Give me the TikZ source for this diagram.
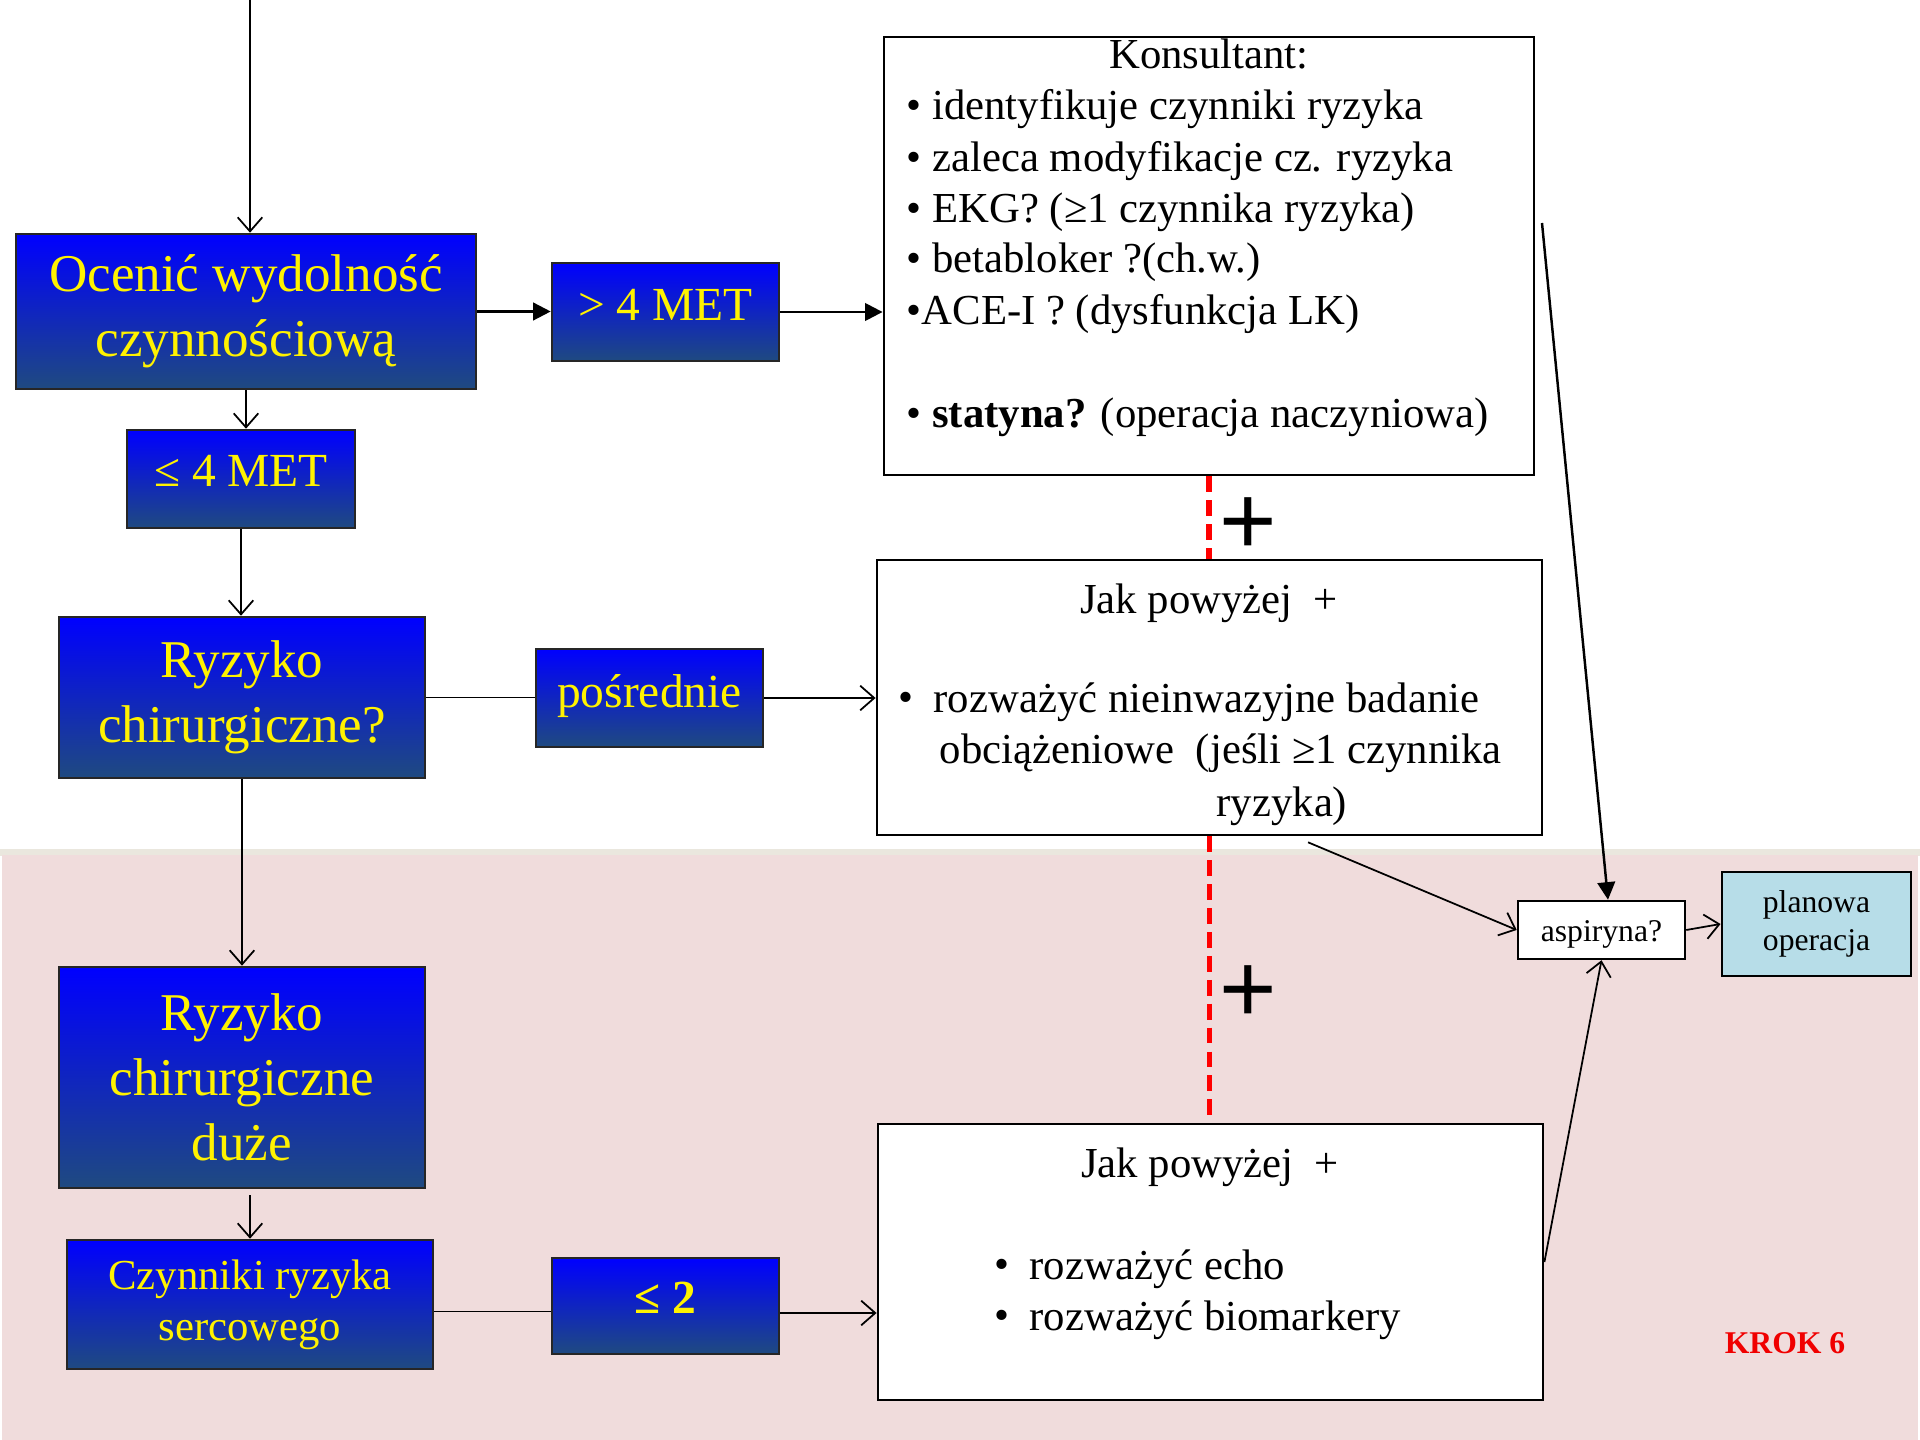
\documentclass[tikz,border=0pt]{standalone}
\usepackage{fontspec}
\setmainfont{Liberation Serif}
\newfontfamily\plusfont{Liberation Sans}
\usetikzlibrary{arrows.meta}
\definecolor{boxtop}{RGB}{0,0,255}
\definecolor{boxbot}{RGB}{31,74,128}
\definecolor{pinkbg}{RGB}{240,220,220}
\definecolor{beigeline}{RGB}{234,231,222}
\definecolor{planblue}{RGB}{183,221,232}
\definecolor{krokred}{RGB}{240,0,0}
\newcommand\fsA{\fontsize{15.1}{18.4}\selectfont}
\newcommand\fsB{\fontsize{13.5}{16}\selectfont}
\newcommand\fsC{\fontsize{12.15}{14.6}\selectfont}
\newcommand\fsD{\fontsize{9}{10.8}\selectfont}
\newcommand\fsP{\plusfont\fontsize{28}{30}\selectfont}
\tikzset{
 bluebox/.style={draw=black!85, line width=0.7pt, top color=boxtop, bottom color=boxbot, text=yellow, align=center, inner sep=0pt},
 whitebox/.style={draw=black, line width=0.7pt, fill=white, inner sep=0pt},
 txt/.style={inner sep=0pt, anchor=west},
 conn/.style={line width=0.5pt, -{Straight Barb[length=4pt,width=7pt]}},
 connf/.style={line width=0.7pt, -{Triangle[length=5pt,width=5pt]}},
 plainln/.style={line width=0.5pt},
 reddash/.style={red, line width=1.7pt, dash pattern=on 4.5pt off 2.3pt},
}
\begin{document}
\begin{tikzpicture}[x=0.01cm,y=-0.01cm]
\useasboundingbox (0,0) rectangle (1920,1440);
\fill[white] (0,0) rectangle (1920,1440);
\fill[beigeline] (0,849) rectangle (1920,856);
\fill[pinkbg] (2,855) rectangle (1918,1440);

% blue boxes
\node[bluebox, minimum width=4.6cm, minimum height=1.55cm, font=\fsA] (ocen) at (246,311.5) {Ocenić wydolność\\czynnościową};
\node[bluebox, minimum width=2.27cm, minimum height=0.98cm, font=\fsB] (gt4) at (665.5,312) {> 4 MET\rule[-0.14cm]{0pt}{0pt}};
\node[bluebox, minimum width=2.28cm, minimum height=0.98cm, font=\fsB] (le4) at (241,479) {≤ 4 MET\rule[-0.17cm]{0pt}{0pt}};
\node[bluebox, minimum width=3.66cm, minimum height=1.61cm, font=\fsA] (ryz1) at (242,697.5) {Ryzyko\\chirurgiczne?};
\node[bluebox, minimum width=2.27cm, minimum height=0.98cm, font=\fsB] (posr) at (649.5,698) {pośrednie\rule[-0.13cm]{0pt}{0pt}};
\node[bluebox, minimum width=3.66cm, minimum height=2.21cm, font=\fsA] (ryz2) at (242,1077.5) {Ryzyko\\chirurgiczne\\duże};
\node[bluebox, minimum width=3.66cm, minimum height=1.29cm, font=\fsC] (czyn) at (250,1304.5) {Czynniki ryzyka\\sercowego};
\node[bluebox, minimum width=2.27cm, minimum height=0.96cm, font=\fsB\bfseries] (le2) at (665.5,1306) {≤ 2\rule[-0.17cm]{0pt}{0pt}};

% white boxes
\node[whitebox, minimum width=6.5cm, minimum height=4.38cm] (kons) at (1209,256) {};
\node[whitebox, minimum width=6.65cm, minimum height=2.75cm] (jak1) at (1209.5,697.5) {};
\node[whitebox, minimum width=6.65cm, minimum height=2.76cm] (jak2) at (1210.5,1262) {};
\node[whitebox, minimum width=1.67cm, minimum height=0.58cm, font=\fsD] (asp) at (1601.5,930) {\rule{0pt}{0.3cm}aspiryna?};
\node[draw=black, line width=0.8pt, fill=planblue, inner sep=0pt, minimum width=1.89cm, minimum height=1.04cm, align=center, font=\fsD] (plan) at (1816.5,924) {planowa\\operacja};

% Konsultant text
\node[inner sep=0pt, font=\fsC] (kt) at (1209,54) {Konsultant:};
\node[txt, font=\fsC] (k1) at (906,109) {• identyfikuje czynniki ryzyka};
\node[txt, font=\fsC] (k2) at (906,161) {• zaleca modyfikacje cz. ryzyka};
\node[txt, font=\fsC] (k3) at (906,212) {• EKG? (≥1 czynnika ryzyka)};
\node[txt, font=\fsC] (k4) at (906,262) {• betabloker ?(ch.w.)};
\node[txt, font=\fsC] (k5) at (906,314) {•ACE-I ? (dysfunkcja LK)};
\node[txt, font=\fsC] (k6) at (906,417) {• \textbf{statyna?} (operacja naczyniowa)};

% Jak 1 text
\node[inner sep=0pt, font=\fsC] (j1t) at (1209,603) {Jak powyżej\ \ +};
\node[txt, font=\fsC] (j1b) at (898,702) {•};
\node[txt, font=\fsC] (j1a) at (933,702) {rozważyć nieinwazyjne badanie};
\node[txt, font=\fsC] (j1c) at (939,753) {obciążeniowe\ \ (jeśli ≥1 czynnika};
\node[txt, font=\fsC] (j1d) at (1216,806) {ryzyka)};

% Jak 2 text
\node[inner sep=0pt, font=\fsC] (j2t) at (1210,1167) {Jak powyżej\ \ +};
\node[txt, font=\fsC] (j2b1) at (994,1269) {•};
\node[txt, font=\fsC] (j2a) at (1029,1269) {rozważyć echo};
\node[txt, font=\fsC] (j2b2) at (994,1320) {•};
\node[txt, font=\fsC] (j2c) at (1029,1320) {rozważyć biomarkery};

% plus signs and dashed links
\draw[reddash] (kons.south) -- (kons.south |- jak1.north);
\draw[reddash] (jak1.south) -- (jak1.south |- jak2.north);
\node[inner sep=0pt, font=\fsP] (p1) at (1248,526) {+};
\node[inner sep=0pt, font=\fsP] (p2) at (1248,994) {+};

% KROK 6
\node[inner sep=0pt, font=\fsD\bfseries, text=krokred] (krok) at (1785,1343) {KROK 6};

% connectors
\coordinate (topin) at (250,0);
\draw[conn] (topin) -- (topin |- ocen.north);
\draw[connf] (ocen.east) -- (ocen.east -| gt4.west);
\draw[connf] (gt4.east) -- (gt4.east -| kons.west);
\draw[conn] (ocen.south) -- (ocen.south |- le4.north);
\draw[conn] (le4.south) -- (le4.south |- ryz1.north);
\draw[plainln] (ryz1.east) -- (ryz1.east -| posr.west);
\draw[conn] (posr.east) -- (posr.east -| jak1.west);
\draw[conn] (ryz1.south) -- (ryz1.south |- ryz2.north);
\draw[conn] ([yshift=-0.06cm]ryz2.south -| czyn.north) -- (czyn.north);
\draw[plainln] ([yshift=-0.07cm]czyn.east) -- ([yshift=-0.07cm]czyn.east -| le2.west);
\draw[conn] ([yshift=-0.07cm]le2.east) -- ([yshift=-0.07cm]le2.east -| jak2.west);
\coordinate (ks) at (1542,223);
\draw[connf] (ks) -- ([xshift=0.065cm]asp.north);
\draw[conn] ([xshift=0.985cm,yshift=-0.06cm]jak1.south) -- (asp.west);
\draw[conn] (jak2.east) -- (asp.south);
\draw[conn] (asp.east) -- (plan.west);
\end{tikzpicture}
\end{document}
